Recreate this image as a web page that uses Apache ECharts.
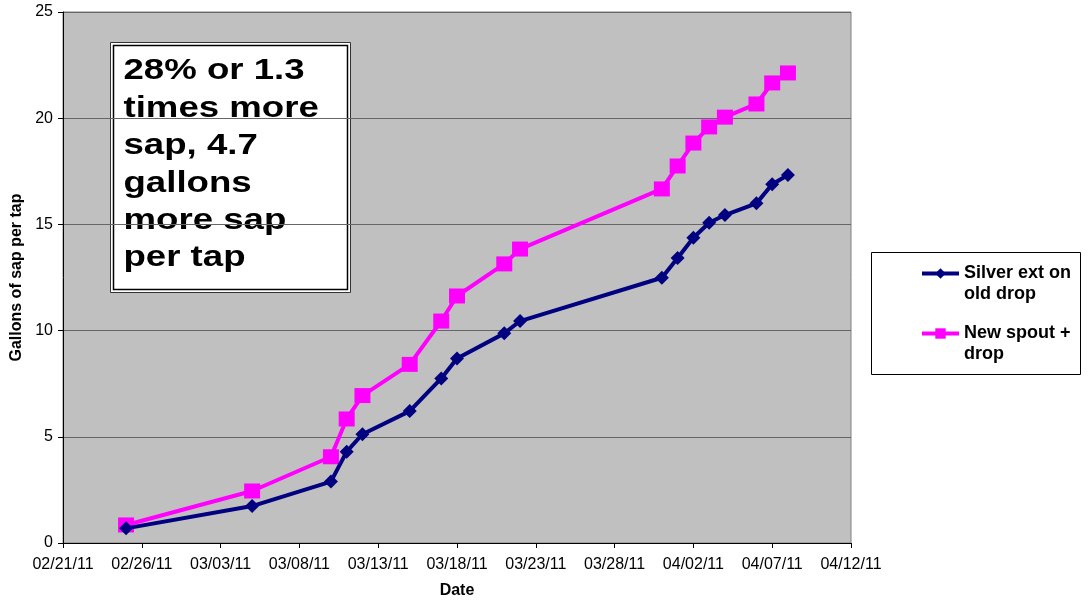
<!DOCTYPE html>
<html>
<head>
<meta charset="utf-8">
<script src="https://cdn.jsdelivr.net/npm/echarts@6/dist/echarts.min.js"></script>
<style>
html,body{margin:0;padding:0;background:#fff;}
#chart{width:1088px;height:601px;}
</style>
</head>
<body>
<div id="chart"></div>
<script>
// ---- data ----
var dates = ['2011-02-25','2011-03-05','2011-03-10','2011-03-11','2011-03-12','2011-03-15','2011-03-17','2011-03-18','2011-03-21','2011-03-22','2011-03-31','2011-04-01','2011-04-02','2011-04-03','2011-04-04','2011-04-06','2011-04-07','2011-04-08'];
var silverExt = [0.69,1.74,2.89,4.30,5.12,6.21,7.75,8.69,9.87,10.45,12.49,13.42,14.37,15.08,15.44,15.99,16.89,17.33];
var newSpout = [0.85,2.45,4.06,5.84,6.94,8.41,10.45,11.63,13.14,13.84,16.67,17.75,18.83,19.59,20.05,20.67,21.66,22.13];
var xTickLabels = ['02/21/11','02/26/11','03/03/11','03/08/11','03/13/11','03/18/11','03/23/11','03/28/11','04/02/11','04/07/11','04/12/11'];
var startDate = '2011-02-21';
var seriesNames = ['Silver ext on old drop','New spout + drop'];
var legendLabels = ['Silver ext on\nold drop','New spout +\ndrop'];
var noteText = '28% or 1.3\ntimes more\nsap, 4.7\ngallons\nmore sap\nper tap';

// ---- helpers ----
function dayOffset(s){
  var p = s.split('-').map(Number), q = startDate.split('-').map(Number);
  return Math.round((Date.UTC(p[0],p[1]-1,p[2]) - Date.UTC(q[0],q[1]-1,q[2]))/86400000);
}
function pairs(vals){ return dates.map(function(d,i){ return [dayOffset(d), vals[i]]; }); }

var FONT = '"Liberation Sans", Arial, Helvetica, sans-serif';
var chart = echarts.init(document.getElementById('chart'), null, {renderer:'canvas'});
chart.setOption({
  animation:false,
  backgroundColor:'#ffffff',
  textStyle:{fontFamily:FONT},
  grid:{left:63,right:237,top:12,bottom:58,containLabel:false,outerBoundsMode:'none',show:true,backgroundColor:'#C0C0C0',borderColor:'#808080',borderWidth:1},
  xAxis:{
    type:'value',min:0,max:(xTickLabels.length-1)*5,interval:5,
    name:'Date',nameLocation:'middle',nameGap:40,
    nameTextStyle:{fontFamily:FONT,fontWeight:'bold',fontSize:16,color:'#000'},
    axisLine:{show:true,onZero:false,lineStyle:{color:'#000',width:1}},
    axisTick:{show:true,length:5,lineStyle:{color:'#000'}},
    axisLabel:{color:'#000',fontFamily:FONT,fontSize:16,margin:14,formatter:function(v){return xTickLabels[Math.round(v/5)];}},
    splitLine:{show:false}
  },
  yAxis:{
    type:'value',min:0,max:25,interval:5,
    name:'Gallons of sap per tap',nameLocation:'middle',nameGap:37,
    nameTextStyle:{fontFamily:FONT,fontWeight:'bold',fontSize:16,color:'#000'},
    axisLine:{show:true,lineStyle:{color:'#000',width:1}},
    axisTick:{show:true,length:5,lineStyle:{color:'#000'}},
    axisLabel:{color:'#000',fontFamily:FONT,fontSize:16,margin:10},
    splitLine:{show:true,lineStyle:{color:'#666666',width:1}}
  },
  legend:{
    orient:'vertical',left:920,top:242,padding:0,itemGap:-3,
    itemWidth:37,itemHeight:13,z:10,
    data:seriesNames,
    lineStyle:{width:4},
    formatter:function(n){return '\n'+legendLabels[seriesNames.indexOf(n)];},
    textStyle:{fontFamily:FONT,fontWeight:'bold',fontSize:18,color:'#000',lineHeight:21}
  },
  graphic:[
    {type:'rect',left:871,top:252,z:1,shape:{width:209,height:122},style:{fill:'#fff',stroke:'#000',lineWidth:1}},
    {type:'group',left:110,top:42,z:5,children:[
      {type:'rect',shape:{x:0,y:0,width:240,height:250},style:{fill:'#fff',stroke:'#333',lineWidth:1}},
      {type:'rect',shape:{x:3,y:3,width:234,height:244},style:{fill:'none',stroke:'#000',lineWidth:1.5}},
      {type:'text',x:13,y:10,scaleX:1.22,style:{text:noteText,font:'bold 30px '+FONT,fill:'#000',lineHeight:37.4,verticalAlign:'top'}}
    ]}
  ],
  series:[
    {name:seriesNames[0],type:'line',data:pairs(silverExt),symbol:'diamond',symbolSize:14,
     lineStyle:{color:'#000080',width:4},itemStyle:{color:'#000080'},z:3},
    {name:seriesNames[1],type:'line',data:pairs(newSpout),symbol:'rect',symbolSize:[16,15],
     lineStyle:{color:'#FF00FF',width:4},itemStyle:{color:'#FF00FF'},z:2}
  ]
});
</script>
</body>
</html>
